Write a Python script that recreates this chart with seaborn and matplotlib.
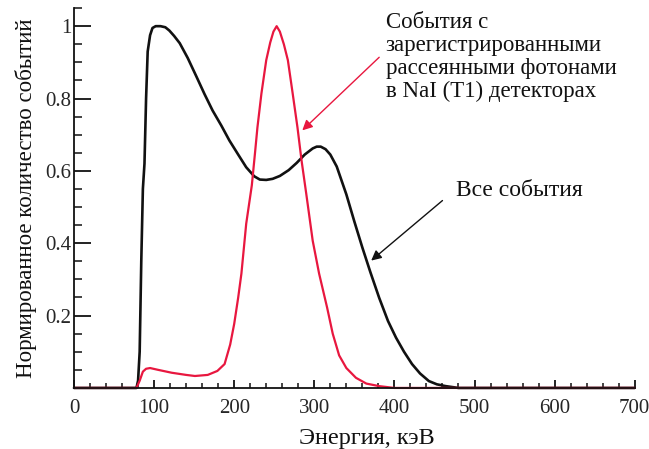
import numpy as np
import pandas as pd
import matplotlib
matplotlib.use("Agg")
import matplotlib.pyplot as plt
from matplotlib.ticker import MultipleLocator
import seaborn as sns

# -------- data --------

all_energy = [0, 78, 80, 82, 84, 86, 88, 90, 92, 95, 98, 102, 108, 114, 119,
              125, 132, 142, 153, 163, 173, 184, 194, 205, 215, 225, 232, 240,
              248, 257, 268, 278, 288, 298, 303, 308, 314, 320, 328, 340, 350,
              360, 370, 381, 392, 402, 412, 422, 432, 443, 453, 464, 480, 700]
all_counts = [0, 0, 0.02, 0.1, 0.35, 0.55, 0.62, 0.8, 0.93, 0.975, 0.995, 1.0,
              1.0, 0.997, 0.988, 0.973, 0.953, 0.912, 0.86, 0.812, 0.767,
              0.725, 0.684, 0.645, 0.61, 0.585, 0.576, 0.575, 0.578, 0.586,
              0.602, 0.622, 0.645, 0.662, 0.667, 0.667, 0.66, 0.645, 0.612,
              0.535, 0.46, 0.388, 0.32, 0.249, 0.185, 0.139, 0.1, 0.066, 0.04,
              0.019, 0.01, 0.005, 0, 0]

nai_energy = [0, 78, 82, 86, 90, 95, 105, 122, 140, 151, 167, 179, 188, 195,
              200, 205, 209, 215, 222, 226, 229, 234, 240, 245, 249, 253, 257,
              262, 267, 273, 279, 284, 290, 298, 306, 316, 323, 331, 340, 352,
              365, 381, 400, 700]
nai_counts = [0, 0, 0.02, 0.045, 0.053, 0.055, 0.05, 0.042, 0.036, 0.033,
              0.036, 0.047, 0.066, 0.12, 0.177, 0.25, 0.316, 0.454, 0.56, 0.65,
              0.72, 0.814, 0.906, 0.955, 0.985, 1.0, 0.985, 0.95, 0.906, 0.814,
              0.72, 0.63, 0.536, 0.407, 0.316, 0.222, 0.15, 0.09, 0.055, 0.028,
              0.012, 0.005, 0, 0]

df_all = pd.DataFrame({"E": all_energy, "N": all_counts})
df_nai = pd.DataFrame({"E": nai_energy, "N": nai_counts})

black = "#111111"
red = "#e8173f"

# -------- style --------

sns.set_style("white")
plt.rcParams["font.family"] = ["Liberation Serif", "DejaVu Serif"]

fig = plt.figure(figsize=(6.49, 4.49), dpi=100)
ax = fig.add_axes([0.114, 0.136, 0.864, 0.846])

sns.lineplot(data=df_all, x="E", y="N", color=black, linewidth=1.9, ax=ax)
sns.lineplot(data=df_nai, x="E", y="N", color=red, linewidth=1.6, ax=ax)
for line in ax.lines:
    line.set_clip_on(False)

ax.set_xlim(0, 700)
ax.set_ylim(0, 1.05)

ax.xaxis.set_major_locator(MultipleLocator(100))
ax.xaxis.set_minor_locator(MultipleLocator(20))
ax.yaxis.set_minor_locator(MultipleLocator(0.05))
ax.set_yticks([0.2, 0.4, 0.6, 0.8, 1.0])
ax.set_yticklabels(["0.2", "0.4", "0.6", "0.8", "1"])

ax.tick_params(axis="x", which="major", direction="in", length=6, width=1.3,
               labelsize=15, pad=8, color=black)
ax.tick_params(axis="x", which="minor", direction="in", length=3.5, width=1.1,
               color=black)
ax.tick_params(axis="y", which="major", direction="in", length=12, width=1.3,
               labelsize=15, pad=2, color=black)
ax.tick_params(axis="y", which="minor", direction="in", length=6, width=1.1,
               color=black)
ax.tick_params(bottom=True, left=True, which="both")

for side in ["top", "right"]:
    ax.spines[side].set_visible(False)
for side in ["left", "bottom"]:
    ax.spines[side].set_color(black)
    ax.spines[side].set_linewidth(1.3)

ax.set_xlabel("Энергия, кэВ", fontsize=17.5, color=black)
ax.xaxis.set_label_coords(0.522, -0.105)
ax.set_ylabel("Нормированное количество событий", fontsize=16.5, labelpad=6,
              color=black)

# -------- annotations --------

ax.text(389, 1.04,
        "События с\nзарегистрированными\nрассеянными фотонами\nв NaI (T1) детекторах",
        fontsize=16.5, color=black, ha="left", va="top", linespacing=1.13)
ax.annotate("", xy=(285, 0.712), xytext=(381, 0.914),
            arrowprops=dict(arrowstyle="-|>", color=red, lw=1.0,
                            shrinkA=0, shrinkB=0, mutation_scale=15))

ax.text(477, 0.546, "Все события", fontsize=17, color=black,
        ha="left", va="center")
ax.annotate("", xy=(371, 0.352), xytext=(460, 0.518),
            arrowprops=dict(arrowstyle="-|>", color=black, lw=1.0,
                            shrinkA=0, shrinkB=0, mutation_scale=15))

fig.savefig("out.png", dpi=100)
